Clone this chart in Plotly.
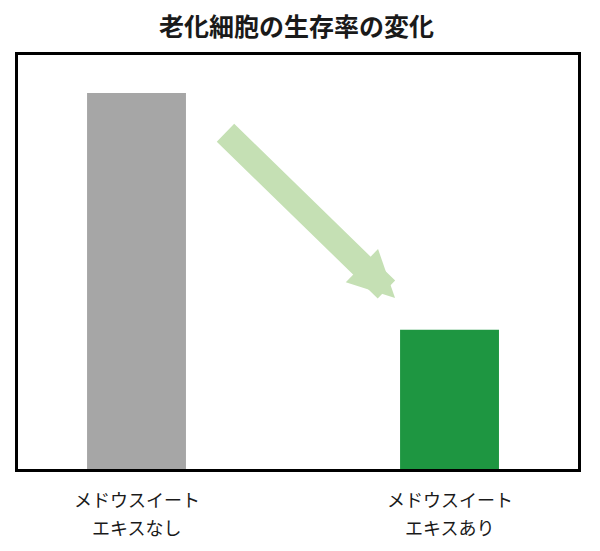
import plotly.graph_objects as go

# data
categories = ['メドウスイート エキスなし', 'メドウスイート エキスあり']
label_line1 = ['メドウスイート', 'メドウスイート']
label_line2 = ['エキスなし', 'エキスあり']
survival = [100, 37]
bar_colors = ['#a6a6a6', '#1e9641']

title_text = '老化細胞の生存率の変化'

# arrow from the first bar towards the second (data coords)
arrow_tail = (0.2795, 89.8)
arrow_head = (0.826, 45.5)

font_jp = 'Noto Sans CJK JP'

fig = go.Figure()

fig.add_trace(go.Bar(
    x=categories,
    y=survival,
    marker=dict(color=bar_colors, line=dict(width=0)),
    width=0.316,
    showlegend=False,
    hoverinfo='skip'
))

fig.add_annotation(
    x=arrow_head[0], y=arrow_head[1],
    ax=arrow_tail[0], ay=arrow_tail[1],
    xref='x', yref='y', axref='x', ayref='y',
    text='',
    showarrow=True,
    arrowhead=2,
    arrowwidth=25,
    arrowsize=0.37,
    arrowcolor='#c5e0b4',
    standoff=0
)

# two-line category labels, spaced wider than plotly's default line height
for i in range(len(categories)):
    for text, shift in ((label_line1[i], -30), (label_line2[i], -58)):
        fig.add_annotation(
            x=i, y=0, xref='x', yref='paper',
            text=text, showarrow=False,
            xanchor='center', yanchor='middle', yshift=shift,
            font=dict(family=font_jp, size=18, color='#1a1a1a')
        )

# the page body adds an 8px margin, so the figure is 8px smaller than the window
fig.update_layout(
    width=592,
    height=543,
    margin=dict(l=10, r=22, t=47, b=82),
    paper_bgcolor='white',
    plot_bgcolor='white',
    title=dict(
        text='<b>' + title_text + '</b>',
        x=0.4873, xanchor='center',
        y=0.964, yanchor='middle',
        font=dict(family=font_jp, size=25, color='#1a1a1a')
    ),
    xaxis=dict(
        type='category',
        range=[-0.3786, 1.4105],
        showline=True, mirror=True, linecolor='black', linewidth=3,
        showgrid=False, zeroline=False,
        showticklabels=False, ticks=''
    ),
    yaxis=dict(
        range=[0, 110.1],
        showline=True, mirror=True, linecolor='black', linewidth=3,
        showgrid=False, zeroline=False,
        showticklabels=False, ticks=''
    )
)

fig.write_html('out.html')
